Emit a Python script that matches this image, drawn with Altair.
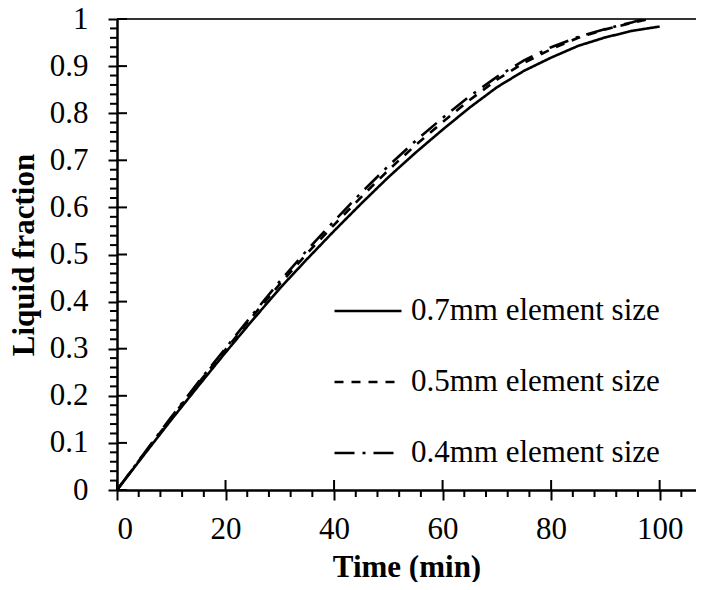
import altair as alt
import pandas as pd

# ---- data ----
series_names = ["0.7mm element size", "0.5mm element size", "0.4mm element size"]

time_07 = [0, 5, 10, 15, 20, 25, 30, 35, 40, 45, 50, 55, 60, 65, 70, 75, 80, 85, 90, 95, 100]
frac_07 = [0, 0.075, 0.149, 0.221, 0.292, 0.361, 0.428, 0.490, 0.550, 0.608, 0.664, 0.716,
           0.765, 0.812, 0.855, 0.890, 0.918, 0.943, 0.961, 0.975, 0.984]

time_05 = [0, 5, 10, 15, 20, 25, 30, 35, 40, 45, 50, 55, 60, 65, 70, 75, 80, 85, 90, 95, 98]
frac_05 = [0, 0.077, 0.153, 0.227, 0.298, 0.369, 0.437, 0.502, 0.563, 0.622, 0.679, 0.732,
           0.781, 0.828, 0.871, 0.907, 0.936, 0.960, 0.978, 0.992, 1.0]

time_04 = [0, 5, 10, 15, 20, 25, 30, 35, 40, 45, 50, 55, 60, 65, 70, 75, 80, 85, 90, 95, 97]
frac_04 = [0, 0.078, 0.155, 0.229, 0.301, 0.373, 0.443, 0.509, 0.571, 0.631, 0.688, 0.741,
           0.790, 0.836, 0.877, 0.912, 0.940, 0.962, 0.979, 0.993, 1.0]

x_major = [0, 20, 40, 60, 80, 100]
x_minor = [4, 8, 12, 16, 24, 28, 32, 36, 44, 48, 52, 56, 64, 68, 72, 76, 84, 88, 92, 96, 104]
y_major = [0, 0.1, 0.2, 0.3, 0.4, 0.5, 0.6, 0.7, 0.8, 0.9, 1.0]
y_minor = [0.02, 0.04, 0.06, 0.08, 0.12, 0.14, 0.16, 0.18, 0.22, 0.24, 0.26, 0.28,
           0.32, 0.34, 0.36, 0.38, 0.42, 0.44, 0.46, 0.48, 0.52, 0.54, 0.56, 0.58,
           0.62, 0.64, 0.66, 0.68, 0.72, 0.74, 0.76, 0.78, 0.82, 0.84, 0.86, 0.88,
           0.92, 0.94, 0.96, 0.98]
y_top = [1.0]

# ---- tables ----
rows = []
for name, ts, fs in zip(series_names, [time_07, time_05, time_04], [frac_07, frac_05, frac_04]):
    for t, f in zip(ts, fs):
        rows.append({"series": name, "time": t, "frac": f})
df = pd.DataFrame(rows)

W, H = 579, 471
FONT = "Liberation Serif"
FS = 31

xscale = alt.Scale(domain=[0, 106.7], nice=False, zero=False)
yscale = alt.Scale(domain=[0, 1], nice=False, zero=False)

x_axis = alt.Axis(values=x_major, title="Time (min)", grid=False,
                  tickSize=10, tickWidth=2, tickColor="black",
                  domainColor="black", domainWidth=2.5,
                  labelFont=FONT, labelFontSize=FS, labelColor="black", labelPadding=14,
                  titleFont=FONT, titleFontSize=FS, titleFontWeight="bold", titleColor="black",
                  titlePadding=8)
y_axis = alt.Axis(values=y_major, title="Liquid fraction", grid=False,
                  tickSize=9, tickWidth=2, tickColor="black",
                  domainColor="black", domainWidth=2.5,
                  labelFont=FONT, labelFontSize=FS, labelColor="black", labelPadding=20,
                  titleFont=FONT, titleFontSize=FS, titleFontWeight="bold", titleColor="black",
                  titlePadding=9, labelExpr="format(datum.value, '')")

lines = alt.Chart(df).mark_line(strokeWidth=2.6, color="black", clip=True).encode(
    x=alt.X("time:Q", scale=xscale, axis=x_axis),
    y=alt.Y("frac:Q", scale=yscale, axis=y_axis),
    strokeDash=alt.StrokeDash(
        "series:N",
        scale=alt.Scale(domain=series_names, range=[[1, 0], [9, 8], [20, 8, 3, 8]]),
        legend=alt.Legend(title=None, orient="none", legendX=216, legendY=257,
                          symbolType="stroke", symbolSize=4489, symbolStrokeWidth=2.6,
                          symbolStrokeColor="black", labelFont=FONT, labelFontSize=FS,
                          labelColor="black", labelOffset=8, labelLimit=500,
                          rowPadding=21, padding=0),
    ),
    order=alt.Order("time:Q"),
)

top_line = alt.Chart(pd.DataFrame({"v": y_top})).mark_rule(color="#333333", strokeWidth=2).encode(
    y=alt.Y("v:Q", scale=yscale)
)

x_major_in = alt.Chart(pd.DataFrame({"t": x_major})).mark_rule(color="black", strokeWidth=2).encode(
    x=alt.X("t:Q", scale=xscale), y=alt.value(H), y2=alt.value(H - 10)
)
x_minor_out = alt.Chart(pd.DataFrame({"t": x_minor})).mark_rule(color="black", strokeWidth=2).encode(
    x=alt.X("t:Q", scale=xscale), y=alt.value(H), y2=alt.value(H + 7)
)
y_major_in = alt.Chart(pd.DataFrame({"v": y_major})).mark_rule(color="black", strokeWidth=2).encode(
    y=alt.Y("v:Q", scale=yscale), x=alt.value(0), x2=alt.value(10)
)
y_minor_out = alt.Chart(pd.DataFrame({"v": y_minor})).mark_rule(color="black", strokeWidth=2).encode(
    y=alt.Y("v:Q", scale=yscale), x=alt.value(-7), x2=alt.value(0)
)

chart = alt.layer(top_line, x_major_in, x_minor_out, y_major_in, y_minor_out, lines).properties(
    width=W, height=H,
    autosize=alt.AutoSizeParams(type="none"),
    padding={"left": 109, "top": 11, "right": 0, "bottom": 92},
).configure_view(stroke=None).configure(background="white")

chart.save("out.html", embed_options={"renderer": "svg", "actions": False})
